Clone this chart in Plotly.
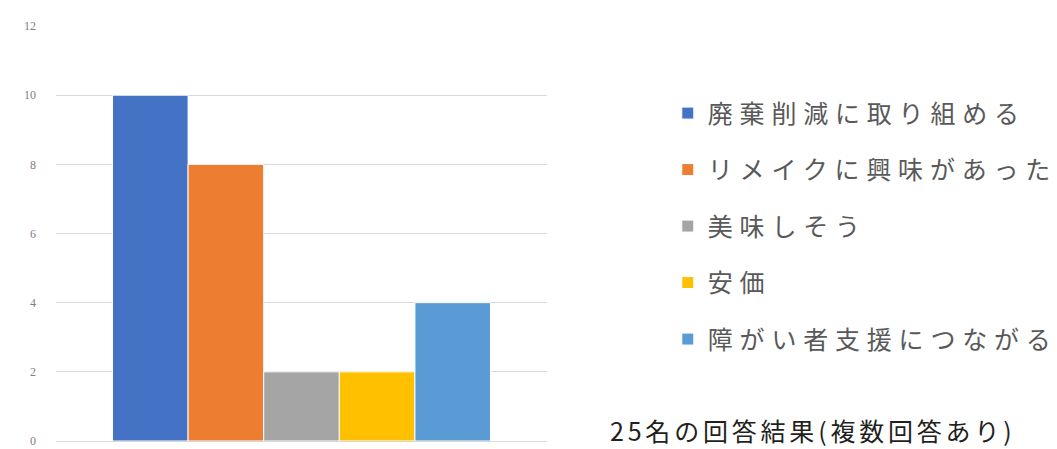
import plotly.graph_objects as go

categories = ["回答"]
series_names = ["廃棄削減に取り組める", "リメイクに興味があった", "美味しそう", "安価", "障がい者支援につながる"]
series_values = [10, 8, 2, 2, 4]
series_colors = ["#4472C4", "#ED7D31", "#A5A5A5", "#FFC000", "#5B9BD5"]
y_ticks = [0, 2, 4, 6, 8, 10, 12]
note_text = "25名の回答結果(複数回答あり)"

fig = go.Figure()
for i, (name, val, col) in enumerate(zip(series_names, series_values, series_colors)):
    fig.add_trace(go.Bar(
        x=categories, y=[val], name=name, legendgroup=f"g{i}",
        marker=dict(color=col, line=dict(color="white", width=1)),
    ))

fig.update_layout(
    width=1057, height=449,
    margin=dict(l=56, r=510, t=26, b=8, autoexpand=False),
    paper_bgcolor="white", plot_bgcolor="white",
    barmode="group", bargap=0.23, bargroupgap=0,
    showlegend=True,
    legend=dict(
        x=1.246, y=0.845, xanchor="left", yanchor="top",
        traceorder="grouped", tracegroupgap=21,
        font=dict(family="Noto Sans CJK JP", size=25, color="#595959"),
        bgcolor="rgba(0,0,0,0)", borderwidth=0,
    ),
    xaxis=dict(showticklabels=False, showgrid=False, zeroline=False, showline=False,
               ticks="", automargin=False),
    yaxis=dict(
        range=[0, 12], tickvals=y_ticks, ticktext=[str(v) for v in y_ticks],
        showgrid=True, gridcolor="#D9D9D9", gridwidth=1,
        zeroline=True, zerolinecolor="#D9D9D9", zerolinewidth=1,
        showline=False, ticks="", ticklabelstandoff=19, ticklabeloverflow="allow",
        automargin=False,
        tickfont=dict(family="Liberation Serif", size=12, color="#808080"),
    ),
    annotations=[dict(
        text=note_text, xref="paper", yref="paper", align="left",
        x=(608 - 56) / 491, y=(441 - 430) / 415, xanchor="left", yanchor="middle",
        showarrow=False,
        font=dict(family="Noto Sans CJK JP", size=25, color="#231F20"),
    )],
)

post = """
document.body.style.margin='0';
var gd = document.getElementById('{plot_id}');
function sp(){
  gd.querySelectorAll('.legendtext').forEach(function(e){e.style.letterSpacing='6.8px';});
  gd.querySelectorAll('.legend [clip-path]').forEach(function(e){e.removeAttribute('clip-path');});
  gd.querySelectorAll('.annotation-text').forEach(function(e){e.style.letterSpacing='3.8px';});
  gd.querySelectorAll('.annotation [clip-path]').forEach(function(e){e.removeAttribute('clip-path');});
}
sp();
gd.on('plotly_afterplot', sp);
"""

fig.write_html("out.html", config={"displayModeBar": False}, post_script=post)
